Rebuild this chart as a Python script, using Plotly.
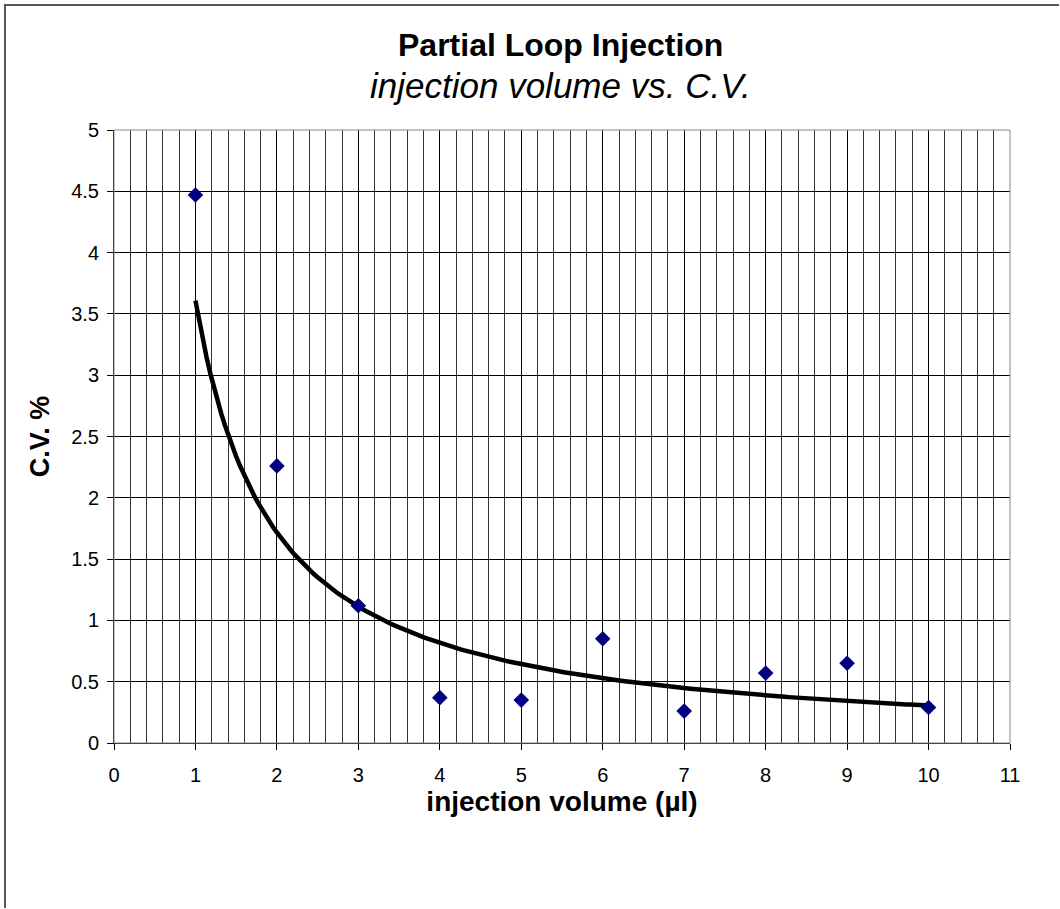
import numpy as np
import plotly.graph_objects as go

# Data
volume_ul = [1, 2, 3, 4, 5, 6, 7, 8, 9, 10]
cv_percent = [4.47, 2.26, 1.12, 0.37, 0.35, 0.85, 0.26, 0.57, 0.65, 0.29]
x_ticks = list(range(0, 12))
y_ticks = [0, 0.5, 1, 1.5, 2, 2.5, 3, 3.5, 4, 4.5, 5]
y_tick_text = ["0", "0.5", "1", "1.5", "2", "2.5", "3", "3.5", "4", "4.5", "5"]

# Power trendline (Excel style: least squares fit of ln y on ln x)
lx = np.log(np.array(volume_ul, dtype=float))
ly = np.log(np.array(cv_percent, dtype=float))
b, ln_a = np.polyfit(lx, ly, 1)
trend_x = np.linspace(min(volume_ul), max(volume_ul), 200)
trend_y = np.exp(ln_a) * trend_x ** b

W, H = 1060, 909
L, R, T, B = 114, 1010, 130, 743

fig = go.Figure()
fig.add_trace(go.Scatter(
    x=trend_x, y=trend_y, mode="lines",
    line=dict(color="black", width=4.5), hoverinfo="skip", showlegend=False))
fig.add_trace(go.Scatter(
    x=volume_ul, y=cv_percent, mode="markers",
    marker=dict(symbol="diamond", size=12, color="#000080"),
    showlegend=False))

font_family = "Liberation Sans, Arial, sans-serif"

def px_x(p):
    return (p - L) / (R - L)

def px_y(p):
    return (B - p) / (B - T)

fig.update_layout(
    width=W, height=H,
    margin=dict(l=L, r=W - R, t=T, b=H - B),
    paper_bgcolor="white", plot_bgcolor="white",
    font=dict(family=font_family, color="black", size=20),
    xaxis=dict(
        range=[0, 11], tickmode="array", tickvals=x_ticks,
        ticks="outside", ticklen=6, tickcolor="black",
        showline=True, linecolor="black", linewidth=1, mirror=False,
        showgrid=True, gridcolor="black", gridwidth=1,
        minor=dict(dtick=0.2, showgrid=True, gridcolor="#333", gridwidth=1, ticks=""),
        zeroline=False, tickfont=dict(size=20), ticklabelstandoff=8,
        title=dict(text="<b>injection volume (µl)</b>", font=dict(size=28), standoff=0),
    ),
    yaxis=dict(
        range=[0, 5], tickmode="array", tickvals=y_ticks, ticktext=y_tick_text,
        ticks="outside", ticklen=6, tickcolor="black",
        showline=True, linecolor="black", linewidth=1,
        showgrid=True, gridcolor="black", gridwidth=1,
        zeroline=False, tickfont=dict(size=20), ticklabelstandoff=4,
        title=dict(text="<b>C.V. %</b>", font=dict(size=27), standoff=13),
    ),
    annotations=[
        dict(text="<b>Partial Loop Injection</b>", x=px_x(560), y=px_y(45),
             xref="paper", yref="paper", showarrow=False,
             font=dict(size=32, family=font_family), xanchor="center", yanchor="middle"),
        dict(text="<i>injection volume vs. C.V.</i>", x=px_x(560), y=px_y(86),
             xref="paper", yref="paper", showarrow=False,
             font=dict(size=35, family=font_family), xanchor="center", yanchor="middle"),
    ],
    shapes=[
        dict(type="line", xref="paper", yref="paper",
             x0=px_x(4), x1=px_x(1059), y0=px_y(5), y1=px_y(5),
             line=dict(color="#555", width=2)),
        dict(type="line", xref="paper", yref="paper",
             x0=px_x(5), x1=px_x(5), y0=px_y(4), y1=px_y(908),
             line=dict(color="#555", width=2)),
        dict(type="rect", xref="paper", yref="paper",
             x0=0, x1=1, y0=0, y1=1, line=dict(color="#888", width=1)),
    ],
)

fig.write_html("out.html", config={"displayModeBar": False},
               post_script="document.body.style.margin='0';document.body.style.overflow='hidden';")
